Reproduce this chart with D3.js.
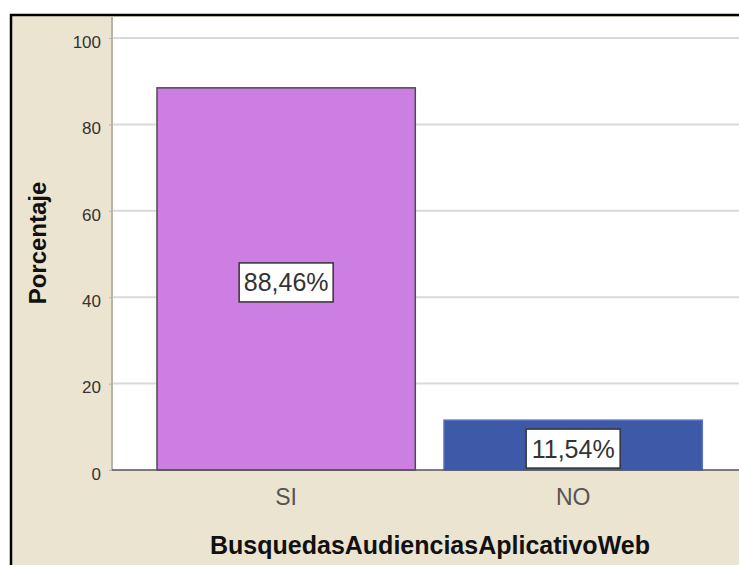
<!DOCTYPE html>
<html>
<head>
<meta charset="utf-8">
<script src="https://cdn.jsdelivr.net/npm/d3@7.9.0/dist/d3.min.js"></script>
<style>
  body { margin: 0; background: #ffffff; }
  svg { display: block; }
</style>
</head>
<body>
<svg id="chart"></svg>
<script>
const categories = ["SI", "NO"];
const percentages = [88.46, 11.54];
const valueLabels = ["88,46%", "11,54%"];
const yTicks = [0, 20, 40, 60, 80, 100];
const barColors = ["#cc7ee3", "#3f59a9"];
const barStrokes = ["#4f4a55", "#5a72bd"];

const svgWidth = 739;
const svgHeight = 565;
const plot = { left: 112, right: 739, top: 16, bottom: 470 };
const fontFamily = "'Liberation Sans', Arial, sans-serif";

const svg = d3.select("#chart")
    .attr("width", svgWidth)
    .attr("height", svgHeight);

// outer beige panel with black frame (cut at right/bottom like the source)
svg.append("rect")
    .attr("x", 0).attr("y", 0)
    .attr("width", svgWidth).attr("height", svgHeight)
    .attr("fill", "#ffffff");

svg.append("rect")
    .attr("x", 11).attr("y", 15)
    .attr("width", svgWidth + 10).attr("height", svgHeight + 10)
    .attr("fill", "#ebe4d0")
    .attr("stroke", "#000")
    .attr("stroke-width", 2.5);

// white plot area
svg.append("rect")
    .attr("x", plot.left).attr("y", plot.top + 1)
    .attr("width", plot.right - plot.left).attr("height", plot.bottom - plot.top - 1)
    .attr("fill", "#ffffff");

const yScale = d3.scaleLinear().domain([0, 100]).range([470, 38]);

const xScale = d3.scaleBand()
    .domain(categories)
    .range([142.65, 716.65])
    .paddingInner(0.1)
    .paddingOuter(0.05);

// gridlines
svg.append("g")
    .selectAll("line")
    .data(yTicks.filter(d => d > 0))
    .enter()
    .append("line")
    .attr("x1", plot.left)
    .attr("x2", plot.right)
    .attr("y1", d => yScale(d))
    .attr("y2", d => yScale(d))
    .attr("stroke", "#d9d9d9")
    .attr("stroke-width", 2);

// left axis line
svg.append("line")
    .attr("x1", plot.left).attr("x2", plot.left)
    .attr("y1", plot.top).attr("y2", plot.bottom)
    .attr("stroke", "#b8b4ab")
    .attr("stroke-width", 2);

// y tick labels
const yAxis = d3.axisLeft(yScale).tickValues(yTicks).tickSize(3).tickPadding(8);
const yAxisG = svg.append("g")
    .attr("transform", `translate(${plot.left}, 0)`)
    .call(yAxis);
yAxisG.select(".domain").remove();
yAxisG.selectAll(".tick line").attr("stroke", "#b8b4ab");
yAxisG.selectAll("text")
    .attr("dy", "0.55em")
    .style("font-family", fontFamily)
    .style("font-size", "17px")
    .attr("fill", "#333");

// bars
const data = categories.map((c, i) => ({ cat: c, value: percentages[i], label: valueLabels[i], i: i }));

svg.append("g")
    .selectAll("rect")
    .data(data)
    .enter()
    .append("rect")
    .attr("x", d => xScale(d.cat))
    .attr("y", d => yScale(d.value))
    .attr("width", xScale.bandwidth())
    .attr("height", d => yScale(0) - yScale(d.value))
    .attr("fill", d => barColors[d.i])
    .attr("stroke", d => barStrokes[d.i])
    .attr("stroke-width", 1.5);

// bottom axis line
svg.append("line")
    .attr("x1", plot.left).attr("x2", plot.right)
    .attr("y1", yScale(0)).attr("y2", yScale(0))
    .attr("stroke", "#555")
    .attr("stroke-width", 1.5);

// value labels in boxes
const labels = svg.append("g")
    .selectAll("g")
    .data(data)
    .enter()
    .append("g")
    .attr("transform", d => `translate(${xScale(d.cat) + xScale.bandwidth() / 2}, ${yScale(d.value / 2) + 3.5})`);

labels.append("rect")
    .attr("x", -47)
    .attr("y", -19.5)
    .attr("width", 94)
    .attr("height", 39)
    .attr("fill", "#ffffff")
    .attr("stroke", "#333")
    .attr("stroke-width", 1.5);

labels.append("text")
    .attr("text-anchor", "middle")
    .attr("dy", "0.36em")
    .style("font-family", fontFamily)
    .style("font-size", "25px")
    .attr("fill", "#333")
    .text(d => d.label);

// category labels
svg.append("g")
    .selectAll("text")
    .data(categories)
    .enter()
    .append("text")
    .attr("x", d => xScale(d) + xScale.bandwidth() / 2)
    .attr("y", 505)
    .attr("text-anchor", "middle")
    .style("font-family", fontFamily)
    .style("font-size", "23px")
    .attr("fill", "#555")
    .text(d => d);

// axis titles
svg.append("text")
    .attr("x", 430)
    .attr("y", 554)
    .attr("text-anchor", "middle")
    .style("font-family", fontFamily)
    .style("font-size", "25px")
    .style("font-weight", "bold")
    .attr("fill", "#111")
    .text("BusquedasAudienciasAplicativoWeb");

svg.append("text")
    .attr("transform", "rotate(-90)")
    .attr("x", -243)
    .attr("y", 46)
    .attr("text-anchor", "middle")
    .style("font-family", fontFamily)
    .style("font-size", "24px")
    .style("font-weight", "bold")
    .attr("fill", "#111")
    .text("Porcentaje");
</script>
</body>
</html>
